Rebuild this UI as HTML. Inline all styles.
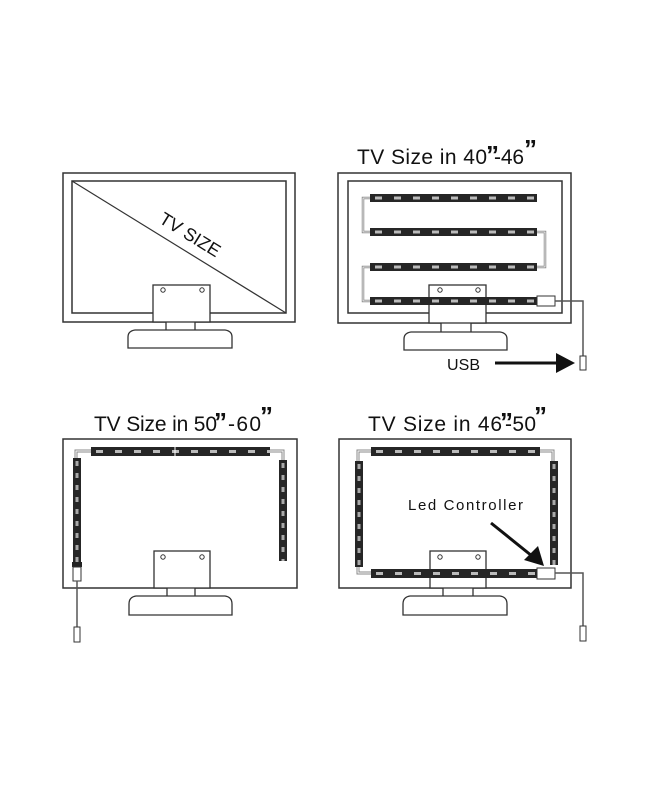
<!DOCTYPE html>
<html><head><meta charset="utf-8"><style>
html,body{margin:0;padding:0;background:#fff;}
svg{display:block}
text{font-family:"Liberation Sans",Arial,sans-serif;fill:#111}
</style></head><body>
<svg width="650" height="800" viewBox="0 0 650 800" xmlns="http://www.w3.org/2000/svg">
<g fill="none" stroke="#333" stroke-width="1.5">
<rect x="63" y="173" width="232" height="149"/>
<rect x="72" y="181" width="214" height="132"/>
<line x1="72" y1="181" x2="286" y2="313" stroke-width="1.2"/>
<rect x="338" y="173" width="233" height="150"/>
<rect x="348" y="181" width="214" height="132"/>
<rect x="63" y="439" width="234" height="149"/>
<rect x="339" y="439" width="232" height="149"/>
</g>
<text x="0" y="0" font-size="18" transform="translate(158,222) rotate(31.7)">TV SIZE</text>

<g fill="none" stroke="#888" stroke-width="2.5">
<path d="M370 198 H363 V232 H370"/>
<path d="M537 232 H545 V267 H537"/>
<path d="M370 267 H363 V301 H370"/>
</g>
<g fill="none" stroke="#fff" stroke-width="0.8">
<path d="M370 198 H363 V232 H370"/>
<path d="M537 232 H545 V267 H537"/>
<path d="M370 267 H363 V301 H370"/>
</g>
<g fill="#262626">
<rect x="370" y="194" width="167" height="8"/>
<rect x="370" y="228" width="167" height="8"/>
<rect x="370" y="263" width="167" height="8"/>
</g>
<g stroke="#bbb" stroke-width="3" stroke-dasharray="7 12" stroke-dashoffset="-5">
<line x1="370" y1="198" x2="537" y2="198"/>
<line x1="370" y1="232" x2="537" y2="232"/>
<line x1="370" y1="267" x2="537" y2="267"/>
</g>

<path d="M91 451 H76 V460 M270 451 H283 V460" fill="none" stroke="#888" stroke-width="3"/>
<path d="M91 451 H76 V460 M270 451 H283 V460" fill="none" stroke="#fff" stroke-width="1"/>
<rect x="91" y="447" width="179" height="9" fill="#262626"/>
<line x1="91" y1="451.5" x2="270" y2="451.5" stroke="#bbb" stroke-width="3" stroke-dasharray="7 12" stroke-dashoffset="-5"/>
<line x1="175" y1="447" x2="175" y2="456" stroke="#fff" stroke-width="1"/>
<rect x="73" y="458" width="8" height="104" fill="#262626"/>
<rect x="279" y="460" width="8" height="101" fill="#262626"/>
<g stroke="#aaa" stroke-width="3" stroke-dasharray="5 7" stroke-dashoffset="-3">
<line x1="77" y1="458" x2="77" y2="562"/>
<line x1="283" y1="460" x2="283" y2="561"/>
</g>
<rect x="72" y="562" width="10" height="5" fill="#222"/>
<rect x="73" y="567" width="8" height="14" fill="#fff" stroke="#333" stroke-width="1"/>
<line x1="77" y1="581" x2="77" y2="627" stroke="#555" stroke-width="1.5"/>
<rect x="74" y="627" width="6" height="15" fill="#fff" stroke="#333" stroke-width="1"/>

<path d="M371 451 H358 V461 M540 451 H553 V461 M358 567 V573 H371" fill="none" stroke="#888" stroke-width="3"/>
<path d="M371 451 H358 V461 M540 451 H553 V461 M358 567 V573 H371" fill="none" stroke="#fff" stroke-width="1"/>
<rect x="371" y="447" width="169" height="9" fill="#262626"/>
<line x1="371" y1="451.5" x2="540" y2="451.5" stroke="#bbb" stroke-width="3" stroke-dasharray="7 12" stroke-dashoffset="-5"/>
<rect x="355" y="461" width="8" height="106" fill="#262626"/>
<rect x="550" y="461" width="8" height="104" fill="#262626"/>
<g stroke="#aaa" stroke-width="3" stroke-dasharray="5 7" stroke-dashoffset="-3">
<line x1="359" y1="461" x2="359" y2="567"/>
<line x1="554" y1="461" x2="554" y2="565"/>
</g>

<g fill="#fff" stroke="#333" stroke-width="1.3">
<path d="M166 322 V332 Q166 336 170 336 H191 Q195 336 195 332 V322"/>
<path d="M128 348 V337 Q128 331 135 330 H225 Q232 331 232 337 V348 Z"/>
<rect x="153" y="285" width="57" height="37"/>
<path d="M441 323 V333 Q441 337 445 337 H467 Q471 337 471 333 V323"/>
<path d="M404 350 V339 Q404 333 411 332 H500 Q507 333 507 339 V350 Z"/>
<rect x="429" y="285" width="57" height="38"/>
<path d="M167 588 V599 Q167 603 171 603 H191 Q195 603 195 599 V588"/>
<path d="M129 615 V604 Q129 597 136 596 H225 Q232 597 232 604 V615 Z"/>
<rect x="154" y="551" width="56" height="37"/>
<path d="M443 588 V599 Q443 603 447 603 H469 Q473 603 473 599 V588"/>
<path d="M403 615 V604 Q403 597 410 596 H500 Q507 597 507 604 V615 Z"/>
<rect x="430" y="551" width="56" height="37"/>
</g>
<g fill="#fff" stroke="#333" stroke-width="1">
<circle cx="163" cy="290" r="2.2"/><circle cx="202" cy="290" r="2.2"/>
<circle cx="440" cy="290" r="2.2"/><circle cx="478" cy="290" r="2.2"/>
<circle cx="163" cy="557" r="2.2"/><circle cx="202" cy="557" r="2.2"/>
<circle cx="440" cy="557" r="2.2"/><circle cx="478" cy="557" r="2.2"/>
</g>

<rect x="370" y="297" width="167" height="8" fill="#262626"/>
<line x1="370" y1="301" x2="537" y2="301" stroke="#bbb" stroke-width="3" stroke-dasharray="7 12" stroke-dashoffset="-5"/>
<rect x="537" y="296" width="18" height="10" fill="#fff" stroke="#333" stroke-width="1"/>
<path d="M555 301 H583 V356" fill="none" stroke="#555" stroke-width="1.5"/>
<rect x="580" y="356" width="6" height="14" fill="#fff" stroke="#333" stroke-width="1"/>
<rect x="371" y="569" width="166" height="9" fill="#262626"/>
<line x1="371" y1="573.5" x2="537" y2="573.5" stroke="#bbb" stroke-width="3" stroke-dasharray="7 12" stroke-dashoffset="-5"/>
<rect x="537" y="568" width="18" height="11" fill="#fff" stroke="#333" stroke-width="1"/>
<path d="M555 573 H583 V626" fill="none" stroke="#555" stroke-width="1.5"/>
<rect x="580" y="626" width="6" height="15" fill="#fff" stroke="#333" stroke-width="1"/>

<line x1="495" y1="363" x2="558" y2="363" stroke="#111" stroke-width="3"/>
<polygon points="556,353 575,363 556,373" fill="#111"/>
<line x1="491" y1="523" x2="532" y2="556" stroke="#111" stroke-width="3"/>
<polygon points="524,560 544,566 538,546" fill="#111"/>

<text x="447" y="370" font-size="16" textLength="33">USB</text>
<text x="408" y="510" font-size="15" textLength="115">Led Controller</text>

<text x="357" y="164" font-size="21" textLength="130">TV Size in 40</text>
<text x="494" y="164" font-size="21" textLength="30">-46</text>
<text x="94" y="431" font-size="21" textLength="123">TV Size in 50</text>
<text x="228" y="431" font-size="21" textLength="33">-60</text>
<text x="368" y="431" font-size="21" textLength="134">TV Size in 46</text>
<text x="505" y="431" font-size="21" textLength="31">-50</text>
<g font-size="26" font-weight="bold">
<text x="486" y="164">”</text><text x="524" y="158">”</text>
<text x="214" y="431">”</text><text x="260" y="425">”</text>
<text x="500" y="431">”</text><text x="534" y="425">”</text>
</g>
</svg>
</body></html>
